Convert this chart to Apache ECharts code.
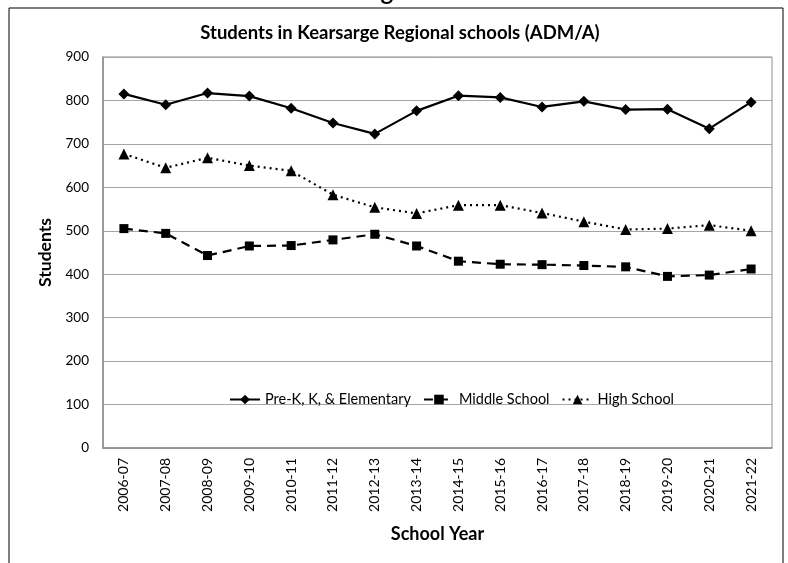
<!DOCTYPE html>
<html lang="en">
<head>
    <meta charset="UTF-8">
    <title>Figure 8</title>
    <script src="https://cdn.jsdelivr.net/npm/echarts@6/dist/echarts.min.js"></script>
    <style>
        body { margin: 0; background: #fff; }
    </style>
</head>
<body>
    <div id="main" style="width: 788px;height:563px;"></div>
    <script type="text/javascript">
        // data
        var years = ['2006-07', '2007-08', '2008-09', '2009-10', '2010-11', '2011-12', '2012-13', '2013-14',
            '2014-15', '2015-16', '2016-17', '2017-18', '2018-19', '2019-20', '2020-21', '2021-22'];
        var elementary = [815, 790, 817, 810, 782, 748, 723, 776, 811, 807, 785, 798, 779, 780, 735, 796];
        var middle = [505, 494, 443, 465, 466, 479, 492, 465, 430, 423, 422, 420, 417, 395, 398, 412];
        var high = [677, 645, 668, 650, 638, 583, 554, 540, 559, 559, 541, 521, 503, 505, 513, 500];
        var yTicks = [0, 100, 200, 300, 400, 500, 600, 700, 800, 900];

        var font = 'Lato, "Open Sans", sans-serif';
        var myChart = echarts.init(document.getElementById('main'));

        var option = {
            animation: false,
            backgroundColor: '#fff',
            title: {
                text: 'Students in Kearsarge Regional schools (ADM/A)',
                left: 395,
                textAlign: 'center',
                top: 19,
                textStyle: { fontFamily: font, fontSize: 18.5, fontWeight: 'bold', color: '#000' }
            },
            graphic: [
                {
                    type: 'rect',
                    shape: { x: 9, y: 8, width: 774, height: 600 },
                    style: { fill: 'none', stroke: '#000', lineWidth: 1 },
                    silent: true
                },
                {
                    type: 'text',
                    x: 408,
                    y: 4,
                    style: {
                        text: 'Figure 8',
                        font: '29px "Liberation Sans", Arial, sans-serif',
                        fill: '#000',
                        align: 'center',
                        verticalAlign: 'bottom'
                    },
                    silent: true
                }
            ],
            legend: {
                left: 224,
                top: 387,
                itemWidth: 30,
                itemHeight: 12,
                itemGap: 12,
                textStyle: { fontFamily: font, fontSize: 14.5, color: '#000' },
                data: ['Pre-K, K, & Elementary', 'Middle School', 'High School']
            },
            grid: {
                left: 103,
                right: 16,
                top: 57,
                bottom: 115,
                show: true,
                borderColor: '#8c8c8c',
                borderWidth: 1
            },
            xAxis: {
                type: 'category',
                data: years,
                boundaryGap: true,
                name: 'School Year',
                nameLocation: 'middle',
                nameGap: 77,
                nameTextStyle: { fontFamily: font, fontSize: 18, fontWeight: 'bold', color: '#000' },
                axisLine: { lineStyle: { color: '#8c8c8c', width: 1.5 } },
                axisTick: { show: false },
                axisLabel: { rotate: 90, margin: 10, fontFamily: font, fontSize: 14, color: '#000' }
            },
            yAxis: {
                type: 'value',
                min: yTicks[0],
                max: yTicks[yTicks.length - 1],
                interval: 100,
                name: 'Students',
                nameLocation: 'middle',
                nameGap: 47,
                nameTextStyle: { fontFamily: font, fontSize: 17.5, fontWeight: 'bold', color: '#000' },
                axisLine: { show: true, lineStyle: { color: '#8c8c8c', width: 1.5 } },
                axisTick: { show: false },
                axisLabel: { margin: 14, fontFamily: font, fontSize: 13.5, color: '#000' },
                splitLine: { lineStyle: { color: '#a6a6a6', width: 1.2 } }
            },
            series: [
                {
                    name: 'Pre-K, K, & Elementary',
                    type: 'line',
                    data: elementary,
                    symbol: 'diamond',
                    symbolSize: 11,
                    itemStyle: { color: '#000' },
                    lineStyle: { color: '#000', width: 2.2, type: 'solid' }
                },
                {
                    name: 'Middle School',
                    type: 'line',
                    data: middle,
                    symbol: 'rect',
                    symbolSize: 9,
                    itemStyle: { color: '#000' },
                    lineStyle: { color: '#000', width: 2.2, type: [9, 6] }
                },
                {
                    name: 'High School',
                    type: 'line',
                    data: high,
                    symbol: 'triangle',
                    symbolSize: 11,
                    itemStyle: { color: '#000' },
                    lineStyle: { color: '#000', width: 2.2, type: [2, 4] }
                }
            ]
        };

        myChart.setOption(option);
    </script>
</body>
</html>
